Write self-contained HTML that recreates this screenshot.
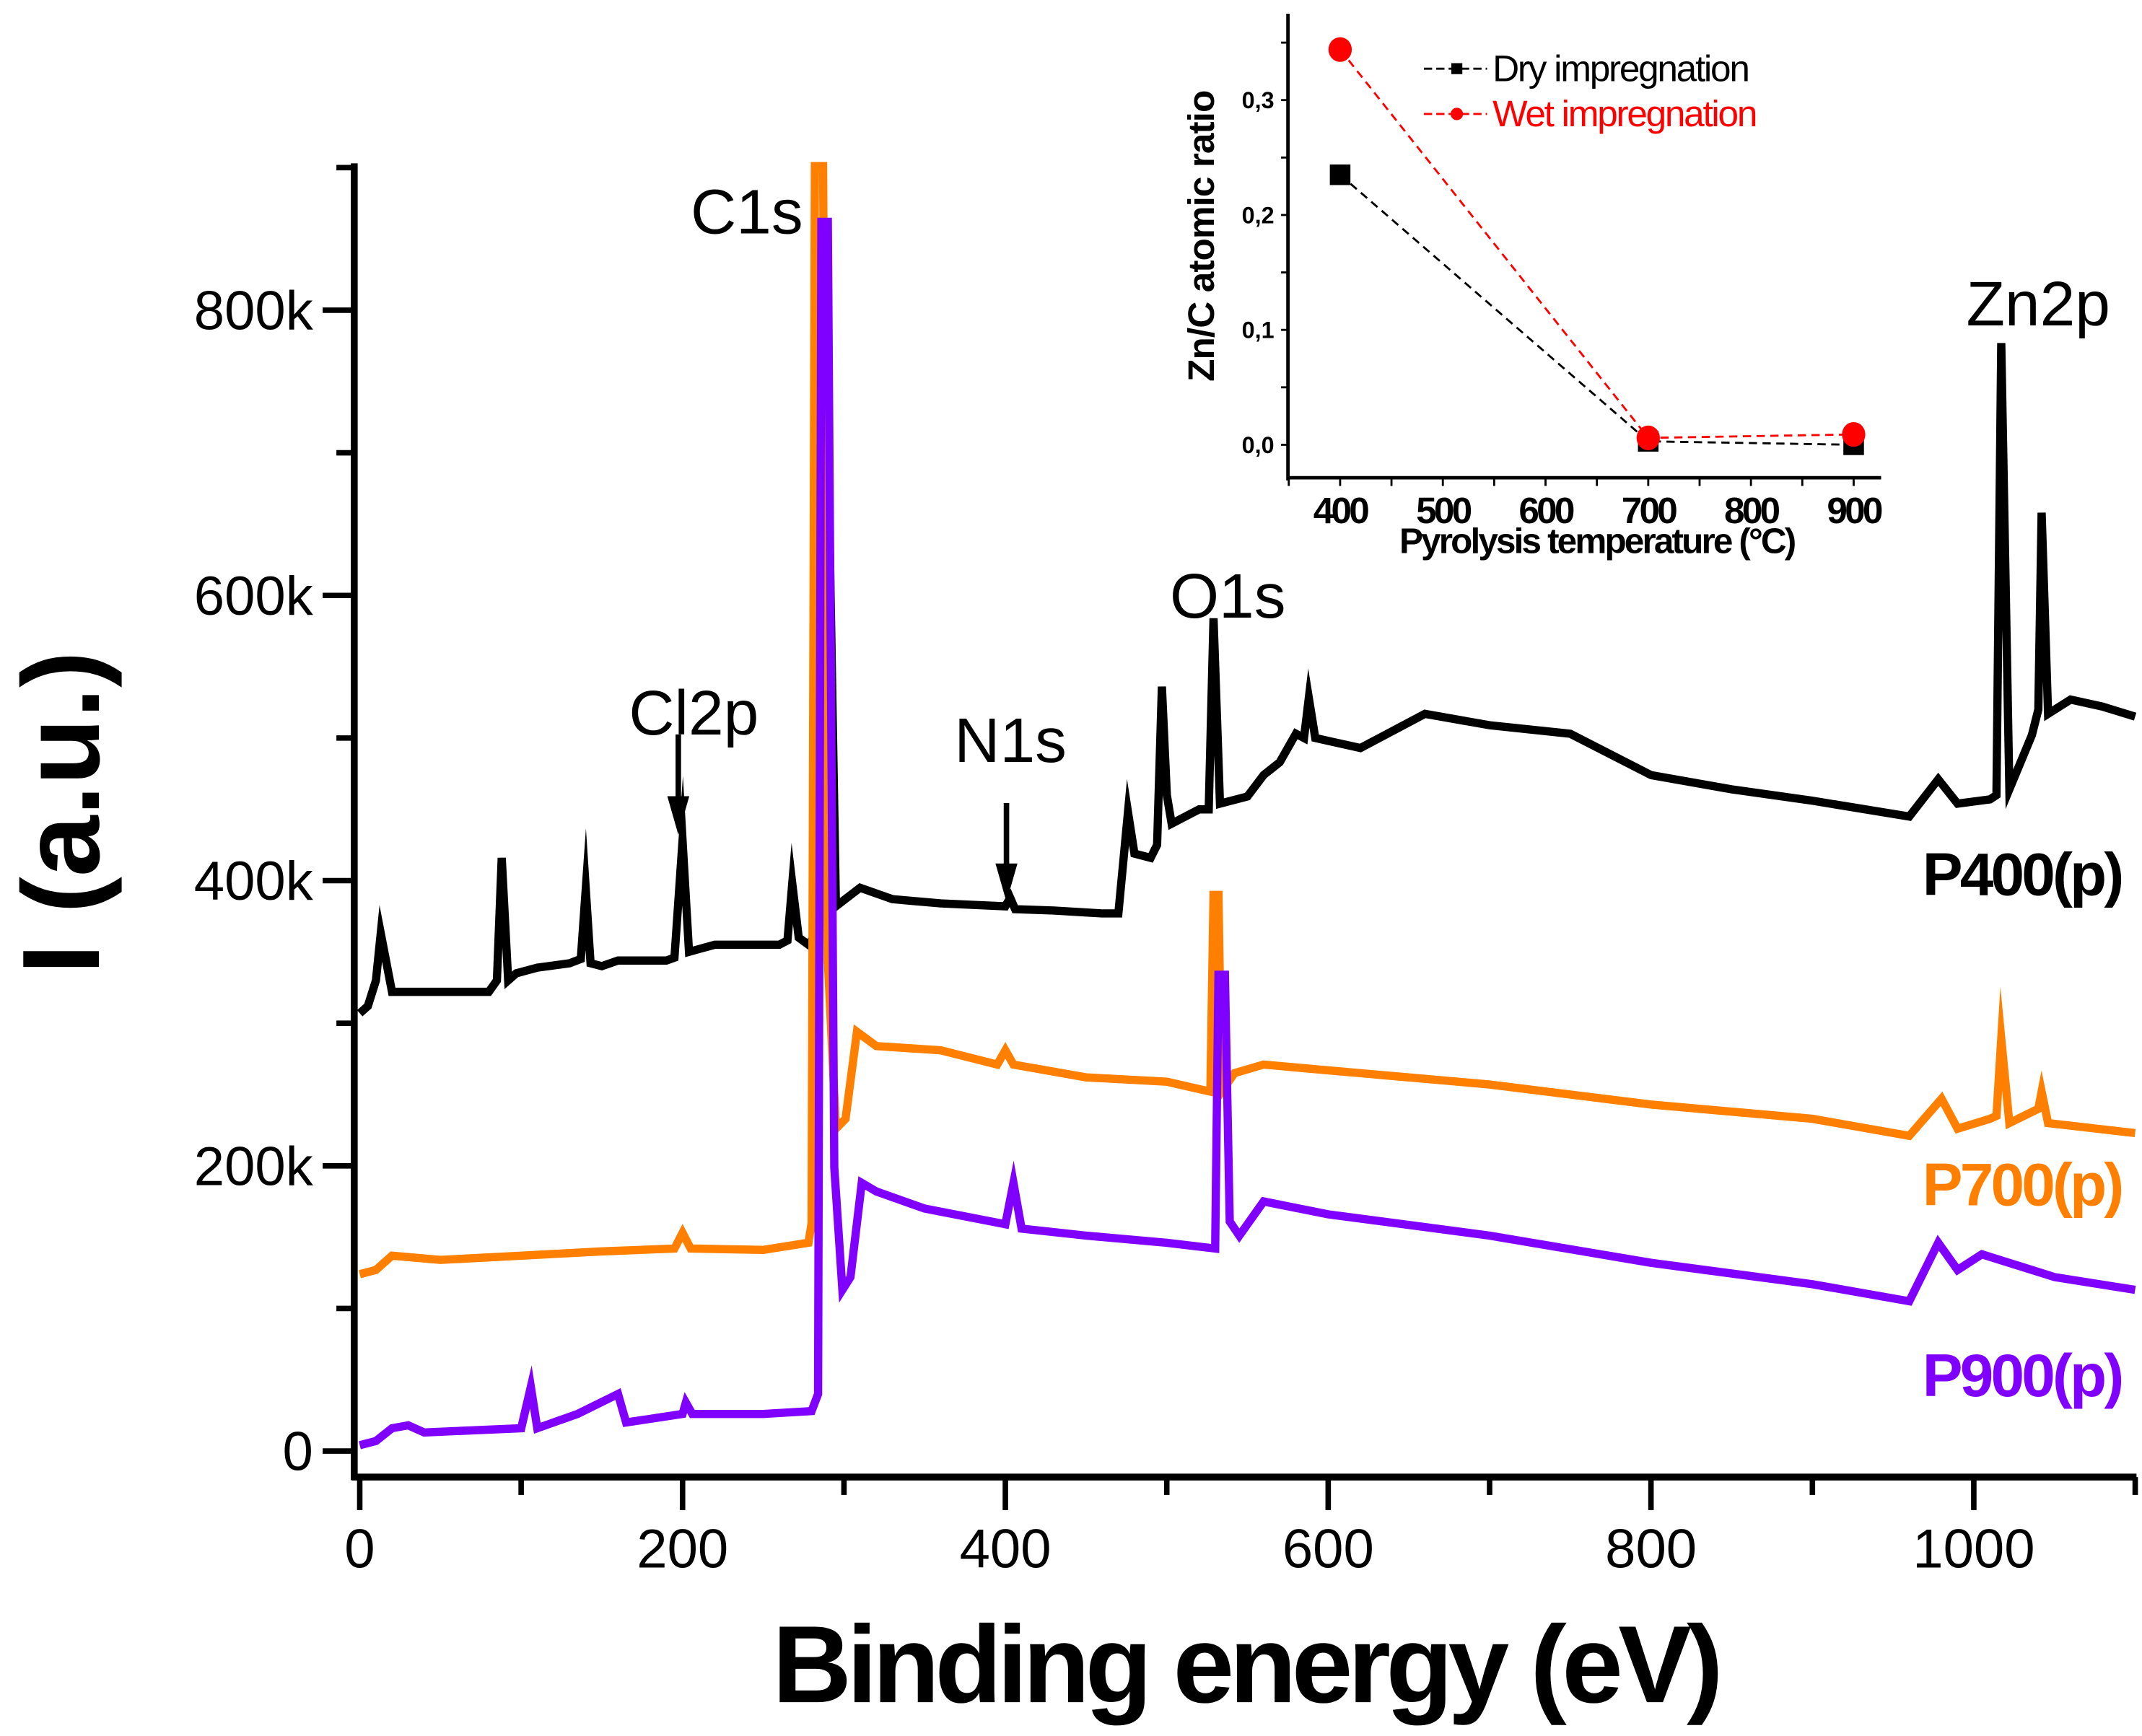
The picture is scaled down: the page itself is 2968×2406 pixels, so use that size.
<!DOCTYPE html>
<html><head><meta charset="utf-8"><style>
html,body{margin:0;padding:0;background:#fff;}
svg{display:block;}
text{font-family:"Liberation Sans",Arial,sans-serif;}
</style></head><body>
<svg id="chart" width="2968" height="2406" viewBox="0 0 1560 1264.6" xmlns="http://www.w3.org/2000/svg">
<defs><clipPath id="plotclip"><rect x="258" y="118" width="1300" height="960"/></clipPath></defs>
<g id="main"></g>
<g id="inset"></g>
</svg>
<script>
// ===== Main chart data =====
const p400E = [0,5,10,13,20,50,80,85,88,92,97,110,130,137,140,143,150,160,190,195,200,204,210,220,260,265,268,272,278,281,283,288,295,310,330,360,400,403,406,430,460,470,476,480,490,494,497,500,503,520,526,529,533,550,560,570,580,585,588,592,600,620,660,700,750,800,850,900,960,978,990,1010,1014,1017,1022,1036,1040,1042,1046,1060,1080,1100];
const p400I = [307,312,330,363,322,322,322,330,416,330,335,339,342,345,394,342,340,344,344,346,428,350,352,355,355,358,398,360,355,360,850,850,382,395,387,384,382,388,380,379,377,377,448,419,416,425,536,460,440,450,450,584,454,459,474,483,503,500,528,500,498,493,517,509,503,474,464,456,445,471,454,457,460,777,464,502,520,658,517,527,522,515];

const p700E = [0,10,20,50,100,150,195,200,205,250,278,280,282,287,290,295,301,308,320,360,395,400,405,450,500,527,529,532,534,542,560,600,700,800,900,960,980,990,1010,1014,1017,1022,1040,1042,1046,1100];
const p700I = [124,127,137,134,137,140,142,153,142,141,146,160,910,910,344,226,233,294,284,281,271,281,271,262,259,252,390,390,252,265,271,267,257,243,233,221,247,226,233,235,289,230,240,252,230,223];

const p900E = [0,10,20,30,40,100,106,110,135,160,165,200,202,206,250,280,284,286,290,294,299,304,311,320,350,400,405,410,450,500,530,532,536,539,545,560,600,700,800,900,960,978,990,1005,1050,1100];
const p900I = [4,7,16,18,13,16,45,16,26,40,20,26,34,26,26,28,40,862,862,199,113,122,188,182,170,159,188,156,151,146,142,334,334,161,151,175,166,151,132,117,105,146,127,138,122,113];

const xTicks = [0,200,400,600,800,1000];
const xTickLabels = ["0","200","400","600","800","1000"];
const yTicks = [0,200,400,600,800];
const yTickLabels = ["0","200k","400k","600k","800k"];

// ===== Inset data =====
const insetTemps = [400,700,900];
const dryRatio = [0.235,0.003,0.0];
const wetRatio = [0.344,0.006,0.009];
const insetXTicks = [400,500,600,700,800,900];
const insetYTicks = [0,0.1,0.2,0.3];
const insetYLabels = ["0,0","0,1","0,2","0,3"];

const NS = "http://www.w3.org/2000/svg";
function mk(tag, attrs, parent){const e=document.createElementNS(NS,tag);for(const k in attrs)e.setAttribute(k,attrs[k]);parent.appendChild(e);return e;}

const X = e => 262 + e*1.1755;
const Y = v => 1057 - v*1.03875;
const main = document.getElementById('main');

const series = [[p400E,p400I,'#000','series-p400'],[p700E,p700I,'#ff8000','series-p700'],[p900E,p900I,'#8000ff','series-p900']];
const sg = mk('g',{'clip-path':'url(#plotclip)'},main);
series.forEach(s=>{
  const d = s[0].map((e,i)=>(i?'L':'M')+X(e).toFixed(1)+' '+Y(s[1][i]).toFixed(1)).join(' ');
  const p = mk('path',{d:d,fill:'none',stroke:s[2],'stroke-width':6,'stroke-linejoin':'miter','stroke-miterlimit':20},sg);
  
  
});

let a = mk('line',{x1:258,y1:119,x2:258,y2:1078,stroke:'#000','stroke-width':5},main);
 
a = mk('line',{x1:256,y1:1076,x2:1556,y2:1076,stroke:'#000','stroke-width':5},main);
 
for(let v=0; v<=900; v+=100){
  const major = v%200===0;
  mk('line',{x1:major?235:245,y1:Y(v),x2:258,y2:Y(v),stroke:'#000','stroke-width':4},main);
}
yTicks.forEach((v,i)=>{
  const t = mk('text',{x:228,y:Y(v)+14,'text-anchor':'end','font-size':40},main);
  t.textContent = yTickLabels[i];
   
});
for(let e=0; e<=1100; e+=100){
  const major = e%200===0;
  mk('line',{x1:X(e),y1:1076,x2:X(e),y2:major?1100:1089,stroke:'#000','stroke-width':4},main);
}
xTicks.forEach((e,i)=>{
  const t = mk('text',{x:X(e),y:1142,'text-anchor':'middle','font-size':40},main);
  t.textContent = xTickLabels[i];
   
});
</script>
<script>
(function(){
const main = document.getElementById('main');
function mk(tag, attrs, parent){const e=document.createElementNS("http://www.w3.org/2000/svg",tag);for(const k in attrs)e.setAttribute(k,attrs[k]);parent.appendChild(e);return e;}
function txt(x,y,s,str,attrs,name){const t=mk('text',Object.assign({x:x,y:y,'font-size':s},attrs||{}),main);t.textContent=str;return t;}
txt(907,1240,80,'Binding energy (eV)',{'text-anchor':'middle','font-weight':'bold','letter-spacing':'-3.5'},'x-axis-title');
txt(72,592,80,'I (a.u.)',{'text-anchor':'middle','font-weight':'bold',transform:'rotate(-90 72 592)'},'y-axis-title');
txt(503,170,46,'C1s',{},'peak-label-c1s');
txt(458,535,46,'Cl2p',{},'peak-label-cl2p');
txt(695,555,46,'N1s',{},'peak-label-n1s');
txt(852,450,46,'O1s',{},'peak-label-o1s');
txt(1432,237,46,'Zn2p',{},'peak-label-zn2p');
txt(1545,652,44,'P400(p)',{'text-anchor':'end','font-weight':'bold','letter-spacing':'-2'},'label-p400');
txt(1545,878,44,'P700(p)',{'text-anchor':'end','font-weight':'bold',fill:'#ff8000','letter-spacing':'-2'},'label-p700');
txt(1545,1017,44,'P900(p)',{'text-anchor':'end','font-weight':'bold',fill:'#8000ff','letter-spacing':'-2'},'label-p900');
[[494,535,608,'arrow-cl2p'],[733,585,657,'arrow-n1s']].forEach(r=>{
  const g=mk('g',{},main);  
  mk('line',{x1:r[0],y1:r[1],x2:r[0],y2:r[2]-20,stroke:'#000','stroke-width':4},g);
  mk('polygon',{points:(r[0]-8)+','+(r[2]-28)+' '+(r[0]+8)+','+(r[2]-28)+' '+r[0]+','+r[2]},g);
});

const ins = document.getElementById('inset');
const IX = t => 976 + (t-400)*0.748;
const IY = v => 324 - v*837;
function imk(tag,attrs){return mk(tag,attrs,ins);}
let a=imk('line',{x1:938,y1:10,x2:938,y2:350,stroke:'#000','stroke-width':2.5});  
a=imk('line',{x1:937,y1:348,x2:1370,y2:348,stroke:'#000','stroke-width':2.5});  
for(let v=0; v<=0.36; v+=0.05){ imk('line',{x1:933,y1:IY(v),x2:938,y2:IY(v),stroke:'#000','stroke-width':1.5}); }
insetYTicks.forEach((v,i)=>{const t=imk('text',{x:928,y:IY(v)+6,'text-anchor':'end','font-size':17,'font-weight':'bold'});t.textContent=insetYLabels[i];});
for(let tt=350; tt<=900; tt+=50){ imk('line',{x1:IX(tt),y1:348,x2:IX(tt),y2:354,stroke:'#000','stroke-width':1.5}); }
insetXTicks.forEach(tt=>{const t=imk('text',{x:IX(tt),y:381,'text-anchor':'middle','font-size':27,'font-weight':'bold','letter-spacing':'-2'});t.textContent=String(tt);});
let t=imk('text',{x:1163,y:403,'text-anchor':'middle','font-size':26,'font-weight':'bold','letter-spacing':'-1.5'});t.textContent='Pyrolysis temperature (°C)';
t=imk('text',{x:884,y:172,'text-anchor':'middle','font-size':27,'font-weight':'bold','letter-spacing':'-0.5',transform:'rotate(-90 884 172)'});t.textContent='Zn/C atomic ratio';
let p=imk('polyline',{points:insetTemps.map((x,i)=>IX(x)+','+IY(dryRatio[i])).join(' '),fill:'none',stroke:'#000','stroke-width':1.5,'stroke-dasharray':'6 4'});
insetTemps.forEach((x,i)=>{const r=imk('rect',{x:IX(x)-7.5,y:IY(dryRatio[i])-7.5,width:15,height:15,fill:'#000'});});
p=imk('polyline',{points:insetTemps.map((x,i)=>IX(x)+','+IY(wetRatio[i])).join(' '),fill:'none',stroke:'#ff0000','stroke-width':1.5,'stroke-dasharray':'6 4'});
insetTemps.forEach((x,i)=>{const c=imk('ellipse',{cx:IX(x),cy:IY(wetRatio[i]),rx:8.5,ry:9,fill:'#ff0000'});});
const lg=imk('g',{});  
mk('line',{x1:1037,y1:50,x2:1083,y2:50,stroke:'#000','stroke-width':1.5,'stroke-dasharray':'6 3'},lg);
mk('rect',{x:1057,y:46,width:8,height:8,fill:'#000'},lg);
mk('line',{x1:1037,y1:83,x2:1083,y2:83,stroke:'#ff0000','stroke-width':1.5,'stroke-dasharray':'6 3'},lg);
mk('circle',{cx:1061,cy:83,r:4.5,fill:'#ff0000'},lg);
t=mk('text',{x:1087,y:59,'font-size':27,'letter-spacing':'-1.2'},lg);t.textContent='Dry impregnation';
t=mk('text',{x:1087,y:92,'font-size':27,fill:'#ff0000','letter-spacing':'-1.2'},lg);t.textContent='Wet impregnation';
})();
</script>
</body></html>
